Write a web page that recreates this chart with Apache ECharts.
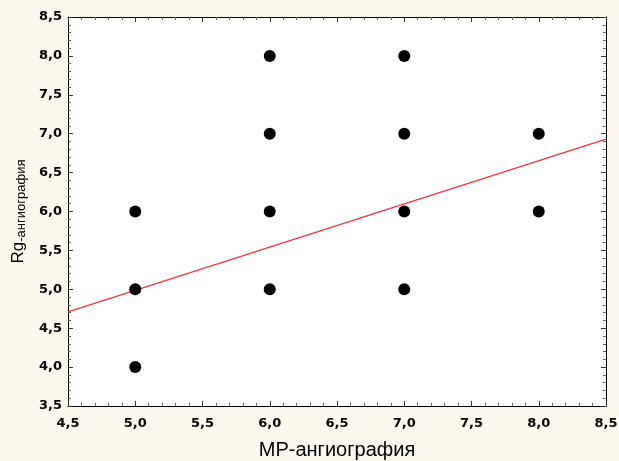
<!DOCTYPE html>
<html><head><meta charset="utf-8">
<script src="https://cdn.jsdelivr.net/npm/echarts@6/dist/echarts.min.js"></script>
<style>html,body{margin:0;padding:0;background:#fdf8ee}#c{width:619px;height:461px}</style>
</head><body><div id="c"></div>
<script>
const xTicks = ['4,5','5,0','5,5','6,0','6,5','7,0','7,5','8,0','8,5'];
const yTicks = ['3,5','4,0','4,5','5,0','5,5','6,0','6,5','7,0','7,5','8,0','8,5'];
const pointsX = [5, 5, 5, 6, 6, 6, 6, 7, 7, 7, 7, 8, 8];
const pointsY = [4, 5, 6, 5, 6, 7, 8, 5, 6, 7, 8, 6, 7];
const fitX = [4.5, 8.5];
const fitY = [4.71, 6.93];
const fmt = v => String(v.toFixed(1)).replace('.', ',');
const chart = echarts.init(document.getElementById('c'));
const axisCommon = {
  interval: 0.5,
  axisLine: {show: true, lineStyle: {color: '#000', width: 1}},
  axisTick: {show: true, inside: true, length: 5, lineStyle: {color: '#333'}},
  minorTick: {show: true, splitNumber: 5, length: 3, lineStyle: {color: '#666'}},
  splitLine: {show: false}
};
const lblStyle = {formatter: fmt, color: '#000', fontFamily: 'DejaVu Sans', fontWeight: 'bold', fontSize: 13};
chart.setOption({
  backgroundColor: '#fdf8ee',
  animation: false,
  grid: {left: 68, right: 13, top: 17, bottom: 55, show: true, backgroundColor: '#fff', borderWidth: 0,
         containLabel: false, outerBoundsMode: 'none'},
  xAxis: [
    Object.assign({}, axisCommon, {type: 'value', min: 4.5, max: 8.5, position: 'bottom',
      axisLabel: Object.assign({margin: 11}, lblStyle),
      name: 'МР-ангиография', nameLocation: 'middle', nameGap: 34,
      nameTextStyle: {color: '#000', fontFamily: 'Liberation Sans', fontSize: 20}}),
    Object.assign({}, axisCommon, {type: 'value', min: 4.5, max: 8.5, position: 'top', axisLabel: {show: false}})
  ],
  yAxis: [
    Object.assign({}, axisCommon, {type: 'value', min: 3.5, max: 8.5, position: 'left',
      axisLabel: Object.assign({margin: 6}, lblStyle),
      name: '{a|Rg}{b|-ангиография}', nameLocation: 'middle', nameGap: 39,
      nameTextStyle: {rich: {
        a: {fontFamily: 'Liberation Sans', fontSize: 17, color: '#000'},
        b: {fontFamily: 'Liberation Sans', fontSize: 13, color: '#000', padding: [7, 0, 0, 0]}
      }}}),
    Object.assign({}, axisCommon, {type: 'value', min: 3.5, max: 8.5, position: 'right', axisLabel: {show: false}})
  ],
  series: [
    {type: 'line', data: fitX.map((x, i) => [x, fitY[i]]), symbol: 'none',
     lineStyle: {color: '#ff3030', width: 1.2}, z: 3},
    {type: 'scatter', data: pointsX.map((x, i) => [x, pointsY[i]]), symbolSize: 12,
     itemStyle: {color: '#000', opacity: 1}, z: 4}
  ]
});
</script></body></html>
